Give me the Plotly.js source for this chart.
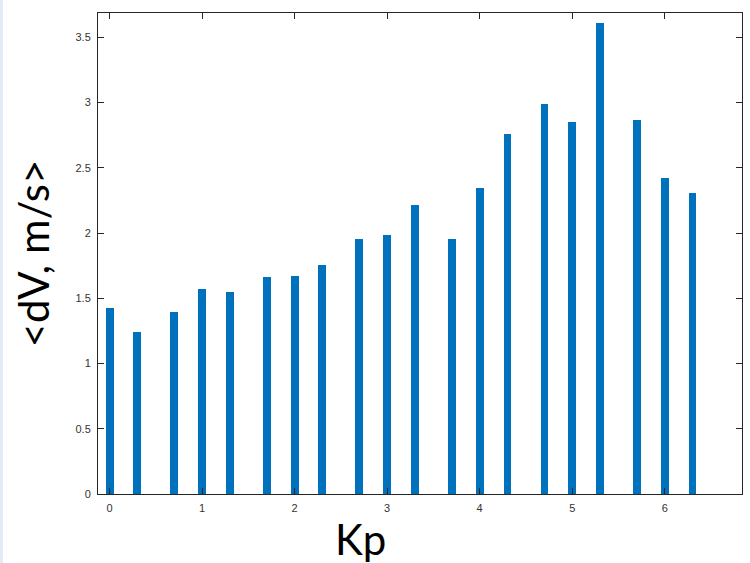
<!DOCTYPE html>
<html>
<head>
<meta charset="utf-8">
<script src="https://cdn.plot.ly/plotly-3.0.1.min.js"></script>
<style>
  html, body { margin: 0; padding: 0; background: #ffffff; }
  #wrap { position: relative; width: 750px; height: 563px; }
  #edge { position: absolute; left: 0; top: 0; width: 3px; height: 563px; background: #e4ebf7; z-index: 5; }
  #chart { width: 750px; height: 563px; }
</style>
</head>
<body>
<div id="wrap">
  <div id="edge"></div>
  <div id="chart"></div>
</div>
<script>
// Kp index bins and mean velocity change per bin
const kp = [0, 0.3, 0.7, 1, 1.3, 1.7, 2, 2.3, 2.7, 3, 3.3, 3.7, 4, 4.3, 4.7, 5, 5.3, 5.7, 6, 6.3];
const dV = [1.427, 1.243, 1.396, 1.570, 1.552, 1.662, 1.670, 1.759, 1.958, 1.987,
            2.214, 1.956, 2.345, 2.759, 2.986, 2.851, 3.610, 2.864, 2.424, 2.306];
const xTicks = [0, 1, 2, 3, 4, 5, 6];
const yTicks = [0, 0.5, 1, 1.5, 2, 2.5, 3, 3.5];
const xLabel = 'Kp';
const yLabel = '&lt;dV, m/s&gt;';

const axisColor = '#262626';
const tickFont = { family: 'Liberation Sans, Arial, sans-serif', size: 11, color: '#333333' };
const titleFont = { family: 'Lato, Open Sans, sans-serif', size: 42, color: '#000000' };

const trace = {
  type: 'bar',
  x: kp,
  y: dV,
  width: 0.085,
  marker: { color: '#0072BD', line: { width: 0 } },
  hoverinfo: 'x+y'
};

const layout = {
  width: 750,
  height: 563,
  margin: { l: 98, r: 8, t: 13, b: 69 },
  paper_bgcolor: '#ffffff',
  plot_bgcolor: '#ffffff',
  showlegend: false,
  bargap: 0,
  xaxis: {
    range: [-0.125, 6.835],
    tickvals: xTicks,
    ticktext: xTicks.map(String),
    ticks: 'inside',
    ticklen: 6,
    tickwidth: 1,
    tickcolor: axisColor,
    showline: true,
    linecolor: axisColor,
    linewidth: 1,
    mirror: 'allticks',
    showgrid: false,
    zeroline: false,
    tickfont: tickFont,
    ticklabelstandoff: 4
  },
  yaxis: {
    range: [0, 3.687],
    tickvals: yTicks,
    ticktext: yTicks.map(String),
    ticks: 'inside',
    ticklen: 6,
    tickwidth: 1,
    tickcolor: axisColor,
    showline: true,
    linecolor: axisColor,
    linewidth: 1,
    mirror: 'allticks',
    showgrid: false,
    zeroline: false,
    tickfont: tickFont,
    ticklabelstandoff: 4,
    title: { text: yLabel, font: titleFont, standoff: 12 }
  },
  // x-axis label sits left of the plot centre, so it is placed as an annotation
  annotations: [{
    text: xLabel,
    xref: 'paper', yref: 'paper',
    x: 0.407, y: -0.093,
    xanchor: 'center', yanchor: 'middle',
    showarrow: false,
    font: titleFont
  }]
};

Plotly.newPlot('chart', [trace], layout, { displayModeBar: false, staticPlot: true });
</script>
</body>
</html>
